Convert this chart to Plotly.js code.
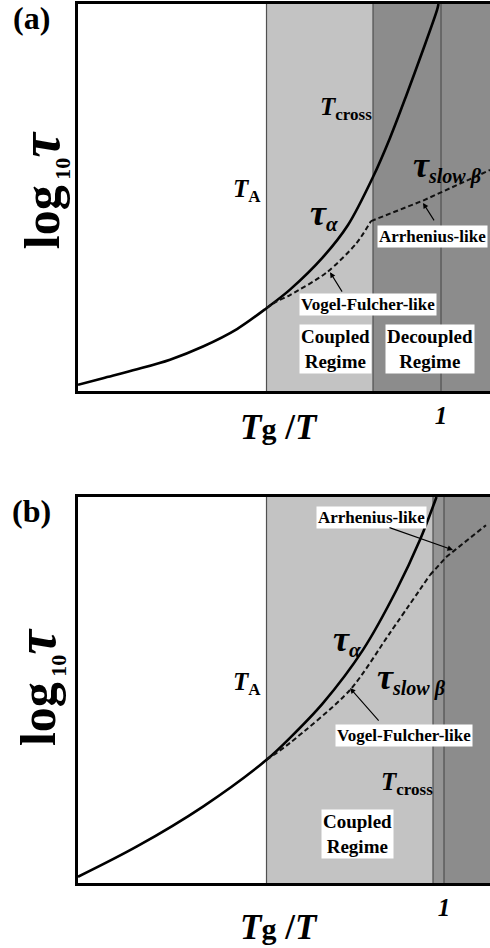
<!DOCTYPE html>
<html>
<head>
<meta charset="utf-8">
<script src="https://cdn.plot.ly/plotly-3.0.1.min.js"></script>
<style>html,body{margin:0;padding:0;overflow:hidden;background:#fff;}</style>
</head>
<body>
<div id="chart" style="width:490px;height:948px;"></div>
<script>
// ---------- Panel (a) data (x = Tg/T, y = log10 tau, arbitrary units) ----------
const aAlphaX = [0.274, 0.324, 0.392, 0.458, 0.524, 0.592, 0.651, 0.698, 0.764, 0.814, 0.864, 0.898, 0.931, 0.964, 0.992, 0.995];
const aAlphaY = [0.16, 0.33, 0.56, 0.81, 1.15, 1.60, 2.14, 2.62, 3.46, 4.29, 5.53, 6.54, 7.65, 8.81, 9.84, 10.0];
const aBetaVFX = [0.651, 0.671, 0.698, 0.771, 0.831, 0.860];
const aBetaVFY = [2.14, 2.31, 2.48, 3.06, 3.82, 4.39];
const aBetaArrX = [0.860, 0.964, 1.098];
const aBetaArrY = [4.39, 4.92, 5.71];
const aBounds = [0.651, 0.864, 1.0];   // T_A, T_cross, T_g

// ---------- Panel (b) data ----------
const bAlphaX = [0.268, 0.385, 0.518, 0.645, 0.692, 0.758, 0.838, 0.905, 0.952, 0.985];
const bAlphaY = [0.16, 0.94, 1.98, 3.19, 3.76, 4.66, 6.04, 7.59, 8.89, 10.0];
const bBetaVFX = [0.645, 0.692, 0.812, 0.892, 0.972];
const bBetaVFY = [3.19, 3.63, 5.00, 6.48, 7.98];
const bBetaArrX = [0.972, 1.005, 1.084];
const bBetaArrY = [7.98, 8.45, 9.27];
const bBounds = [0.645, 0.978, 1.0];  // T_A, T_cross, T_g

const tickVals = [1];
const tickText = ['<i>1</i>'];

const SERIF = 'Liberation Serif';
const LIGHT = '#c3c3c3', MID = '#959595', DARK = '#8c8c8c', VLINE = '#505050';

function solid(x, y, xa, ya) {
  return {x, y, xaxis: xa, yaxis: ya, mode: 'lines', type: 'scatter',
    line: {color: '#000', width: 2.6, shape: 'spline', smoothing: 0.9}, hoverinfo: 'skip'};
}
function dashed(x, y, xa, ya, spline) {
  return {x, y, xaxis: xa, yaxis: ya, mode: 'lines', type: 'scatter',
    line: {color: '#111', width: 2, dash: '5px,3px', shape: spline ? 'spline' : 'linear', smoothing: 0.8}, hoverinfo: 'skip'};
}

const traces = [
  solid(aAlphaX, aAlphaY, 'x', 'y'),
  dashed(aBetaVFX, aBetaVFY, 'x', 'y', true),
  dashed(aBetaArrX, aBetaArrY, 'x', 'y', false),
  solid(bAlphaX, bAlphaY, 'x2', 'y2'),
  dashed(bBetaVFX, bBetaVFY, 'x2', 'y2', true),
  dashed(bBetaArrX, bBetaArrY, 'x2', 'y2', false)
];

function regionShapes(b, xr, yr, colors, xmax) {
  const yd = yr + ' domain';
  const edges = [b[0], b[1], b[2], xmax];
  const s = [];
  for (let i = 0; i < 3; i++) {
    s.push({type: 'rect', xref: xr, yref: yd, x0: edges[i], x1: edges[i + 1], y0: 0, y1: 1,
      fillcolor: colors[i], line: {width: 0}, layer: 'below'});
  }
  for (let i = 0; i < 3; i++) {
    s.push({type: 'line', xref: xr, yref: yd, x0: b[i], x1: b[i], y0: 0, y1: 1,
      line: {color: VLINE, width: 1.2}, layer: 'below'});
  }
  return s;
}

const aRange = [0.274, 1.098];
const bRange = [0.268, 1.092];

const shapes = [].concat(
  regionShapes(aBounds, 'x', 'y', [LIGHT, DARK, DARK], aRange[1]),
  regionShapes(bBounds, 'x2', 'y2', [LIGHT, MID, DARK], bRange[1])
);

function lab(x, y, xr, yr, text, size, extra) {
  return Object.assign({x, y, xref: xr, yref: yr, text, showarrow: false,
    xanchor: 'center', yanchor: 'middle',
    font: {family: SERIF, size: size, color: '#000', weight: 'bold'}}, extra || {});
}
function boxed(x, y, xr, yr, text, size) {
  return lab(x, y, xr, yr, text, size, {bgcolor: '#fff', borderpad: 1});
}
function arrow(tx, ty, hx, hy, xr, yr) {
  return {x: hx, y: hy, xref: xr, yref: yr, ax: tx, ay: ty, axref: xr, ayref: yr,
    text: '', showarrow: true, arrowhead: 2, arrowsize: 1, arrowwidth: 1.1, arrowcolor: '#000'};
}

const tauA = '<i><span style="font-size:36px">τ</span></i><sub><i><span style="font-size:21px">α</span></i></sub>';
const tauB = '<i><span style="font-size:36px">τ</span></i><sub><i><span style="font-size:20px">slow β</span></i></sub>';
const tCross = '<i>T</i><sub><span style="font-size:17px">cross</span></sub>';
const tA = '<i>T</i><sub><span style="font-size:17px">A</span></sub>';
const xTitle = '<i>T</i><span style="font-size:30px">g</span> /<i>T</i>';
const yTitle = 'log<sub><span style="font-size:22px"> 10</span></sub><i><span style="font-size:56px">τ</span></i>';

const annotations = [
  // panel a
  lab(-0.112, 1 - 18 / 948, 'paper', 'paper', '(a)', 32),
  lab(0.810, 7.29, 'x', 'y', tCross, 25),
  lab(0.612, 5.17, 'x', 'y', tA, 25),
  lab(0.766, 4.57, 'x', 'y', tauA, 30),
  lab(1.012, 5.81, 'x', 'y', tauB, 30),
  boxed(0.982, 4.00, 'x', 'y', 'Arrhenius-like', 17),
  boxed(0.854, 2.24, 'x', 'y', 'Vogel-Fulcher-like', 17),
  boxed(0.788, 1.09, 'x', 'y', 'Coupled<br>Regime', 19),
  boxed(0.977, 1.09, 'x', 'y', 'Decoupled<br>Regime', 19),
  arrow(0.988, 4.37, 0.964, 4.86, 'x', 'y'),
  arrow(0.804, 2.53, 0.778, 3.07, 'x', 'y'),
  lab(0.488, 1 - 427 / 948, 'paper', 'paper', xTitle, 35),
  lab(-0.087, 1 - 190 / 948, 'paper', 'paper', yTitle, 50, {textangle: -90}),
  // panel b
  lab(-0.112, 1 - 511 / 948, 'paper', 'paper', '(b)', 32),
  boxed(0.854, 9.48, 'x2', 'y2', 'Arrhenius-like', 17),
  lab(0.806, 6.27, 'x2', 'y2', tauA, 30),
  lab(0.605, 5.16, 'x2', 'y2', tA, 25),
  lab(0.934, 5.31, 'x2', 'y2', tauB, 30),
  boxed(0.919, 3.81, 'x2', 'y2', 'Vogel-Fulcher-like', 17),
  lab(0.926, 2.59, 'x2', 'y2', tCross, 25),
  boxed(0.827, 1.28, 'x2', 'y2', 'Coupled<br>Regime', 19),
  arrow(0.888, 9.22, 1.018, 8.63, 'x2', 'y2'),
  arrow(0.872, 4.17, 0.812, 5.05, 'x2', 'y2'),
  lab(0.488, 1 - 927 / 948, 'paper', 'paper', xTitle, 35),
  lab(-0.097, 1 - 687 / 948, 'paper', 'paper', yTitle, 50, {textangle: -90})
];

function xax(range, anchor) {
  return {range, anchor, domain: [0, 1], showline: true, linewidth: 3, linecolor: '#000', mirror: true,
    showgrid: false, zeroline: false, ticks: '', tickvals: tickVals, ticktext: tickText,
    tickfont: {family: SERIF, size: 25, color: '#000', weight: 'bold'}, ticklabelstandoff: 0, fixedrange: true};
}
function yax(domain, anchor) {
  return {range: [0, 10], domain, anchor, showline: true, linewidth: 3, linecolor: '#000', mirror: false,
    showgrid: false, zeroline: false, ticks: '', showticklabels: false, fixedrange: true};
}

const layout = {
  width: 490, height: 948,
  margin: {l: 78, r: 0, t: 0, b: 0},
  paper_bgcolor: '#fff', plot_bgcolor: '#fff',
  showlegend: false,
  xaxis: xax(aRange, 'y'),
  yaxis: yax([1 - 391 / 948, 1 - 4 / 948], 'x'),
  xaxis2: xax(bRange, 'y2'),
  yaxis2: yax([1 - 883 / 948, 1 - 497 / 948], 'x2'),
  shapes, annotations
};

Plotly.newPlot('chart', traces, layout, {displayModeBar: false, staticPlot: true});
</script>
</body>
</html>
